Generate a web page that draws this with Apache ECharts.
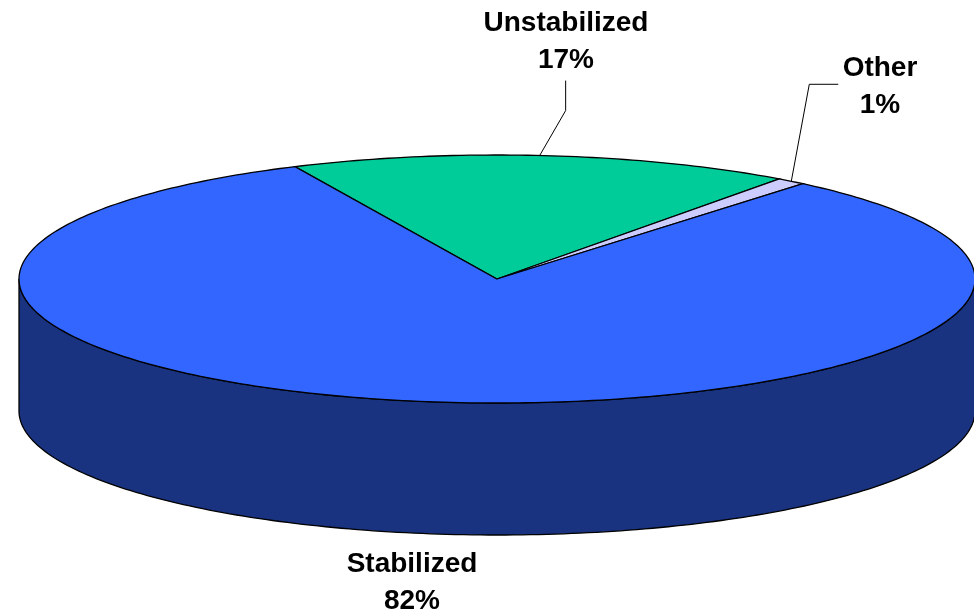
<!DOCTYPE html>
<html>
<head>
<meta charset="utf-8">
<style>html,body{margin:0;padding:0;background:#fff}#c{width:974px;height:613px}</style>
<script src="https://cdn.jsdelivr.net/npm/echarts@6/dist/echarts.min.js"></script>
</head>
<body>
<div id="c"></div>
<script>
var categories = ['Unstabilized', 'Other', 'Stabilized'];
var values = [17, 1, 82];
var topColors = ['#00CC99', '#CCCCFF', '#3366FF'];
var sideColors = ['#006650', '#666680', '#193380'];
var labelCentres = [[566, 41], [880, 86], [412, 582]];
var labelNudgeY = 1;
var leaderAnchorShift = [-4, 0, 0];
var leaderOffsets = [[[26, -45], [26, -75]], [[18, -97], [47, -97]], null];

var cx = 497, cy = 279, rx = 478, ry = 124, depth = 132, startDeg = -25;
var total = values.reduce(function (a, b) { return a + b; }, 0);

function pt(deg, dy) {
  var t = deg * Math.PI / 180;
  return [cx + rx * Math.sin(t), cy - ry * Math.cos(t) + (dy || 0)];
}
function arc(a, b, dy) {
  var out = [], n = Math.max(2, Math.ceil(Math.abs(b - a)));
  for (var i = 0; i <= n; i++) out.push(pt(a + (b - a) * i / n, dy));
  return out;
}
function renderItem(params, api) {
  var i = params.dataIndex, before = 0;
  for (var k = 0; k < i; k++) before += values[k];
  var a = startDeg + before / total * 360;
  var b = a + api.value(0) / total * 360;
  var children = [];
  var lineStyle = { stroke: '#000', lineWidth: 1.3 };
  var wa = Math.max(a, 90), wb = Math.min(b, 270);
  if (wb > wa) {
    children.push({
      type: 'polygon',
      shape: { points: arc(wa, wb, 0).concat(arc(wb, wa, depth)) },
      style: Object.assign({ fill: sideColors[i] }, lineStyle)
    });
  }
  children.push({
    type: 'polygon',
    shape: { points: [[cx, cy]].concat(arc(a, b, 0)) },
    style: Object.assign({ fill: topColors[i] }, lineStyle)
  });
  if (leaderOffsets[i]) {
    var m = pt((a + b) / 2, 0);
    m = [m[0] + leaderAnchorShift[i], m[1]];
    var pts = [m].concat(leaderOffsets[i].map(function (o) { return [m[0] + o[0], m[1] + o[1]]; }));
    children.push({ type: 'polyline', shape: { points: pts }, style: { stroke: '#000', lineWidth: 1, fill: null } });
  }
  children.push({
    type: 'text',
    style: {
      text: categories[i] + '\n' + api.value(0) + '%',
      x: labelCentres[i][0], y: labelCentres[i][1] + labelNudgeY,
      align: 'center', verticalAlign: 'middle', lineHeight: 37,
      fill: '#000', font: 'bold 28px "Liberation Sans", Arial, sans-serif'
    }
  });
  return { type: 'group', children: children };
}
var chart = echarts.init(document.getElementById('c'), null, { renderer: 'canvas' });
chart.setOption({
  animation: false,
  backgroundColor: '#fff',
  series: [{
    type: 'custom',
    coordinateSystem: 'none',
    renderItem: renderItem,
    clip: false,
    silent: true,
    data: categories.map(function (n, i) { return { name: n, value: [values[i]] }; })
  }]
});
</script>
</body>
</html>
